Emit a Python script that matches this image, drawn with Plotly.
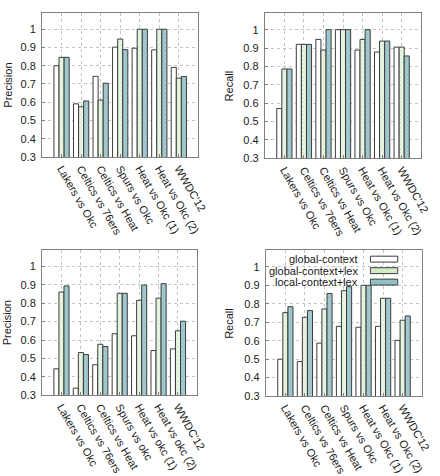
import plotly.graph_objects as go

W, H = 440, 476

categories_top = ["Lakers vs Okc", "Celtics vs 76ers", "Celtics vs Heat", "Spurs vs Okc",
                  "Heat vs Okc (1)", "Heat vs Okc (2)", "WWDC'12"]
categories_bl = ["Lakers vs Okc", "Celtics vs 76ers", "Celtics vs Heat", "Spurs vs okc",
                 "Heat vs okc (1)", "Heat vs okc (2)", "WWDC'12"]
categories_br = categories_top

series_names = ["global-context", "global-context+lex", "local-context+lex"]

# Panel 1: Precision (top-left)
p1_global = [0.800, 0.591, 0.742, 0.902, 0.896, 0.887, 0.791]
p1_glex = [0.846, 0.575, 0.612, 0.946, 1.000, 1.000, 0.732]
p1_llex = [0.846, 0.607, 0.704, 0.888, 1.000, 1.000, 0.741]
# Panel 2: Recall (top-right)
r1_global = [0.571, 0.920, 0.947, 1.000, 0.889, 0.878, 0.905]
r1_glex = [0.786, 0.920, 0.889, 1.000, 0.947, 0.938, 0.905]
r1_llex = [0.786, 0.920, 1.000, 1.000, 1.000, 0.938, 0.857]
# Panel 3: Precision (bottom-left)
p2_global = [0.444, 0.339, 0.466, 0.634, 0.623, 0.543, 0.552]
p2_glex = [0.860, 0.532, 0.577, 0.853, 0.815, 0.827, 0.650]
p2_llex = [0.893, 0.521, 0.565, 0.853, 0.898, 0.905, 0.702]
# Panel 4: Recall (bottom-right)
r2_global = [0.500, 0.487, 0.587, 0.678, 0.673, 0.678, 0.602]
r2_glex = [0.752, 0.727, 0.772, 0.871, 0.900, 0.830, 0.711]
r2_llex = [0.784, 0.763, 0.856, 0.893, 0.900, 0.830, 0.734]

panels = [
    dict(cats=categories_top, vals=[p1_global, p1_glex, p1_llex], ytitle="Precision",
         px=(43, 203), py=(13, 159.3), tx=8),
    dict(cats=categories_top, vals=[r1_global, r1_glex, r1_llex], ytitle="Recall",
         px=(271, 431), py=(13.3, 160.7), tx=234),
    dict(cats=categories_bl, vals=[p2_global, p2_glex, p2_llex], ytitle="Precision",
         px=(43, 202), py=(253.3, 401.3), tx=8),
    dict(cats=categories_br, vals=[r2_global, r2_glex, r2_llex], ytitle="Recall",
         px=(272, 432), py=(254, 402), tx=235),
]

LINE = "#3c3c3c"
styles = [
    dict(color="white", pattern=None),
    dict(color="#d6edcc", pattern=dict(shape="x", fgcolor="#b4dba4", bgcolor="#eef8ea",
                                       size=3, solidity=0.45)),
    dict(color="#96c1c8", pattern=dict(shape="x", fgcolor="#80b2ba", bgcolor="#a6cbd1",
                                       size=3, solidity=0.45)),
]

FONT = "Liberation Sans, Arial, sans-serif"
fig = go.Figure()
layout = dict(width=W, height=H, margin=dict(l=0, r=0, t=0, b=0),
              paper_bgcolor="white", plot_bgcolor="white", showlegend=False,
              barmode="group", bargap=0.22, bargroupgap=0.0,
              font=dict(family=FONT, size=11, color="#1a1a1a"))
annotations = []
shapes = []

for i, p in enumerate(panels):
    n = "" if i == 0 else str(i + 1)
    xa, ya = "x" + n, "y" + n
    for s, (name, vals) in enumerate(zip(series_names, p["vals"])):
        st = styles[s]
        marker = dict(color=st["color"], line=dict(color=LINE, width=1))
        if st["pattern"]:
            marker["pattern"] = st["pattern"]
        fig.add_trace(go.Bar(x=p["cats"], y=vals, name=name, marker=marker,
                             xaxis=xa, yaxis=ya, offsetgroup=str(s),
                             legendgroup=name, showlegend=False))
    x0, x1 = p["px"]
    y0, y1 = p["py"]
    common = dict(showline=True, mirror=True, linecolor="#808080", linewidth=1,
                  showgrid=True, gridcolor="#c4c4c4", griddash="dot", gridwidth=1,
                  ticks="inside", ticklen=3, tickcolor="#808080", zeroline=False,
                  tickfont=dict(family=FONT, size=11, color="#1a1a1a"))
    layout["xaxis" + n] = dict(common, domain=[x0 / W, x1 / W], anchor=ya,
                               type="category", range=[-1, 7], tickangle=60)
    layout["yaxis" + n] = dict(common, domain=[1 - y1 / H, 1 - y0 / H], anchor=xa,
                               range=[0.3, 1.09], dtick=0.1, tick0=0.3,
                               ticklabelstandoff=3)
    annotations.append(dict(text=p["ytitle"], textangle=-90, xref="paper", yref="paper",
                            x=p["tx"] / W, y=1 - ((y0 + y1) / 2) / H, showarrow=False,
                            font=dict(family=FONT, size=11, color="#1a1a1a"),
                            xanchor="center", yanchor="middle"))

# legend in bottom-right panel (text on the left, swatch on the right)
leg_rows = [263, 274.7, 286.3]
leg_fill = ["white", "#d2eac6", "#93bfc6"]
for name, yc, fc in zip(series_names, leg_rows, leg_fill):
    annotations.append(dict(text=name, xref="paper", yref="paper", x=368 / W, y=1 - yc / H,
                            xanchor="right", yanchor="middle", showarrow=False,
                            font=dict(family=FONT, size=11, color="#1a1a1a")))
    shapes.append(dict(type="rect", xref="paper", yref="paper", x0=379 / W, x1=407 / W,
                       y0=1 - (yc + 3) / H, y1=1 - (yc - 3) / H,
                       line=dict(color=LINE, width=1), fillcolor=fc))

layout["annotations"] = annotations
layout["shapes"] = shapes
fig.update_layout(**layout)
fig.write_html("out.html")
